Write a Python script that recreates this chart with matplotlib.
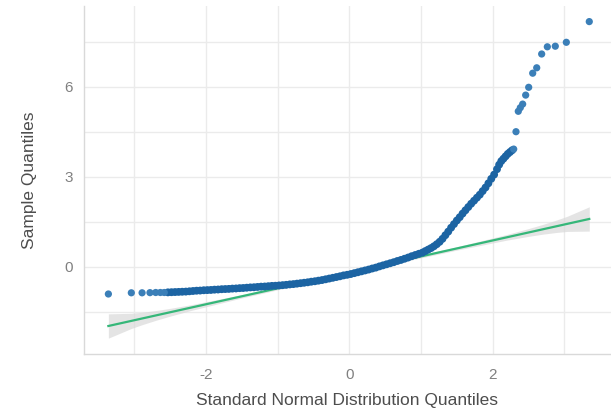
import matplotlib
matplotlib.use("Agg")
import matplotlib.pyplot as plt
from matplotlib.ticker import MultipleLocator

# theoretical (standard normal) quantiles and sample quantiles
# dense body of the curve
body_theo = [-2.53, -2.48, -2.43, -2.38, -2.33, -2.28, -2.23, -2.18, -2.13, -2.08,
             -2.03, -1.98, -1.93, -1.88, -1.83, -1.78, -1.73, -1.68, -1.63, -1.58,
             -1.53, -1.48, -1.43, -1.38, -1.33, -1.28, -1.23, -1.18, -1.13, -1.08,
             -1.03, -0.98, -0.93, -0.88, -0.83, -0.78, -0.73, -0.68, -0.63, -0.58,
             -0.53, -0.48, -0.43, -0.38, -0.33, -0.28, -0.23, -0.18, -0.13, -0.08,
             -0.03, 0.02, 0.07, 0.12, 0.17, 0.22, 0.27, 0.32, 0.37, 0.42,
             0.47, 0.52, 0.57, 0.62, 0.67, 0.72, 0.77, 0.82, 0.87, 0.92,
             0.97, 1.02, 1.06, 1.10, 1.14, 1.18, 1.22, 1.26, 1.30, 1.34,
             1.38, 1.42, 1.46, 1.50, 1.54, 1.58, 1.62, 1.66, 1.70, 1.74,
             1.78, 1.82, 1.86, 1.90, 1.94, 1.98, 2.02, 2.06, 2.09, 2.12,
             2.15, 2.18, 2.21, 2.24, 2.27]
body_sample = [-0.855, -0.85, -0.845, -0.84, -0.835, -0.83, -0.82, -0.81, -0.80, -0.795,
               -0.785, -0.78, -0.775, -0.765, -0.76, -0.75, -0.745, -0.74, -0.73, -0.725,
               -0.715, -0.71, -0.70, -0.69, -0.685, -0.675, -0.665, -0.66, -0.65, -0.64,
               -0.635, -0.625, -0.615, -0.605, -0.59, -0.58, -0.565, -0.55, -0.535, -0.52,
               -0.50, -0.485, -0.465, -0.445, -0.42, -0.395, -0.37, -0.345, -0.32, -0.29,
               -0.27, -0.245, -0.215, -0.185, -0.155, -0.125, -0.095, -0.06, -0.03, 0.01,
               0.045, 0.08, 0.115, 0.15, 0.19, 0.225, 0.265, 0.305, 0.35, 0.39,
               0.43, 0.47, 0.52, 0.57, 0.62, 0.68, 0.75, 0.83, 0.93, 1.05,
               1.17, 1.30, 1.42, 1.54, 1.65, 1.77, 1.88, 1.99, 2.10, 2.20,
               2.30, 2.40, 2.52, 2.64, 2.78, 2.93, 3.07, 3.25, 3.40, 3.52,
               3.60, 3.68, 3.76, 3.82, 3.88]

# sparse tails
tail_theo = [-3.36, -3.04, -2.89, -2.78, -2.70, -2.635, -2.58,
             2.293, 2.325, 2.357, 2.385, 2.418, 2.460, 2.502, 2.558, 2.614,
             2.683, 2.762, 2.873, 3.027, 3.347]
tail_sample = [-0.91, -0.87, -0.87, -0.865, -0.86, -0.86, -0.86,
               3.92, 4.50, 5.18, 5.30, 5.42, 5.72, 5.98, 6.45, 6.63,
               7.09, 7.33, 7.35, 7.48, 8.17]

# reference line (intercept, slope) and its confidence band half-widths
line_intercept = -0.189
line_slope = 0.532
band_x = [-3.36, -3.04, -2.89, -2.70, -2.50, -2.20, -1.50, 0.0,
          1.50, 2.20, 2.50, 2.70, 2.89, 3.04, 3.347]
band_half = [0.405, 0.253, 0.207, 0.163, 0.130, 0.095, 0.056, 0.036,
             0.056, 0.095, 0.130, 0.163, 0.207, 0.253, 0.405]

plt.rcParams['font.family'] = ['Liberation Sans', 'DejaVu Sans']
plt.rcParams['axes.unicode_minus'] = False

fig = plt.figure(figsize=(6.11, 4.11), dpi=100)
ax = fig.add_axes([84 / 611, 57 / 411, 527 / 611, 348 / 411])

line_y = [line_intercept + line_slope * x for x in band_x]
lower = [y - h for y, h in zip(line_y, band_half)]
upper = [y + h for y, h in zip(line_y, band_half)]
ax.fill_between(band_x, lower, upper, color='#d9d9d9', alpha=0.7, lw=0, zorder=2)
ax.plot(band_x, line_y, color='#35b779', lw=1.6, zorder=3)

ax.scatter(body_theo, body_sample, s=32, color='#1c64a3',
           edgecolors='none', zorder=4)
ax.scatter(tail_theo, tail_sample, s=27, color='#3b7fb8',
           edgecolors='none', zorder=4)

ax.set_xlim(-3.70, 3.65)
ax.set_ylim(-2.91, 8.69)
ax.xaxis.set_major_locator(MultipleLocator(2))
ax.xaxis.set_minor_locator(MultipleLocator(1))
ax.yaxis.set_major_locator(MultipleLocator(3))
ax.yaxis.set_minor_locator(MultipleLocator(1.5))

ax.grid(which='both', color='#ebebeb', lw=1.0, zorder=0)
ax.set_axisbelow(True)
for side in ['top', 'right']:
    ax.spines[side].set_visible(False)
for side in ['left', 'bottom']:
    ax.spines[side].set_color('#d9d9d9')
    ax.spines[side].set_linewidth(1.0)

ax.tick_params(which='both', length=0, labelsize=11, labelcolor='#808080')
ax.tick_params(axis='x', pad=10)
ax.tick_params(axis='y', pad=8)

ax.set_xlabel("Standard Normal Distribution Quantiles", fontsize=12.5,
              color='#4d4d4d', labelpad=8)
ax.set_ylabel("Sample Quantiles", fontsize=12.5, color='#4d4d4d', labelpad=20)

fig.savefig("out.png", dpi=100)
